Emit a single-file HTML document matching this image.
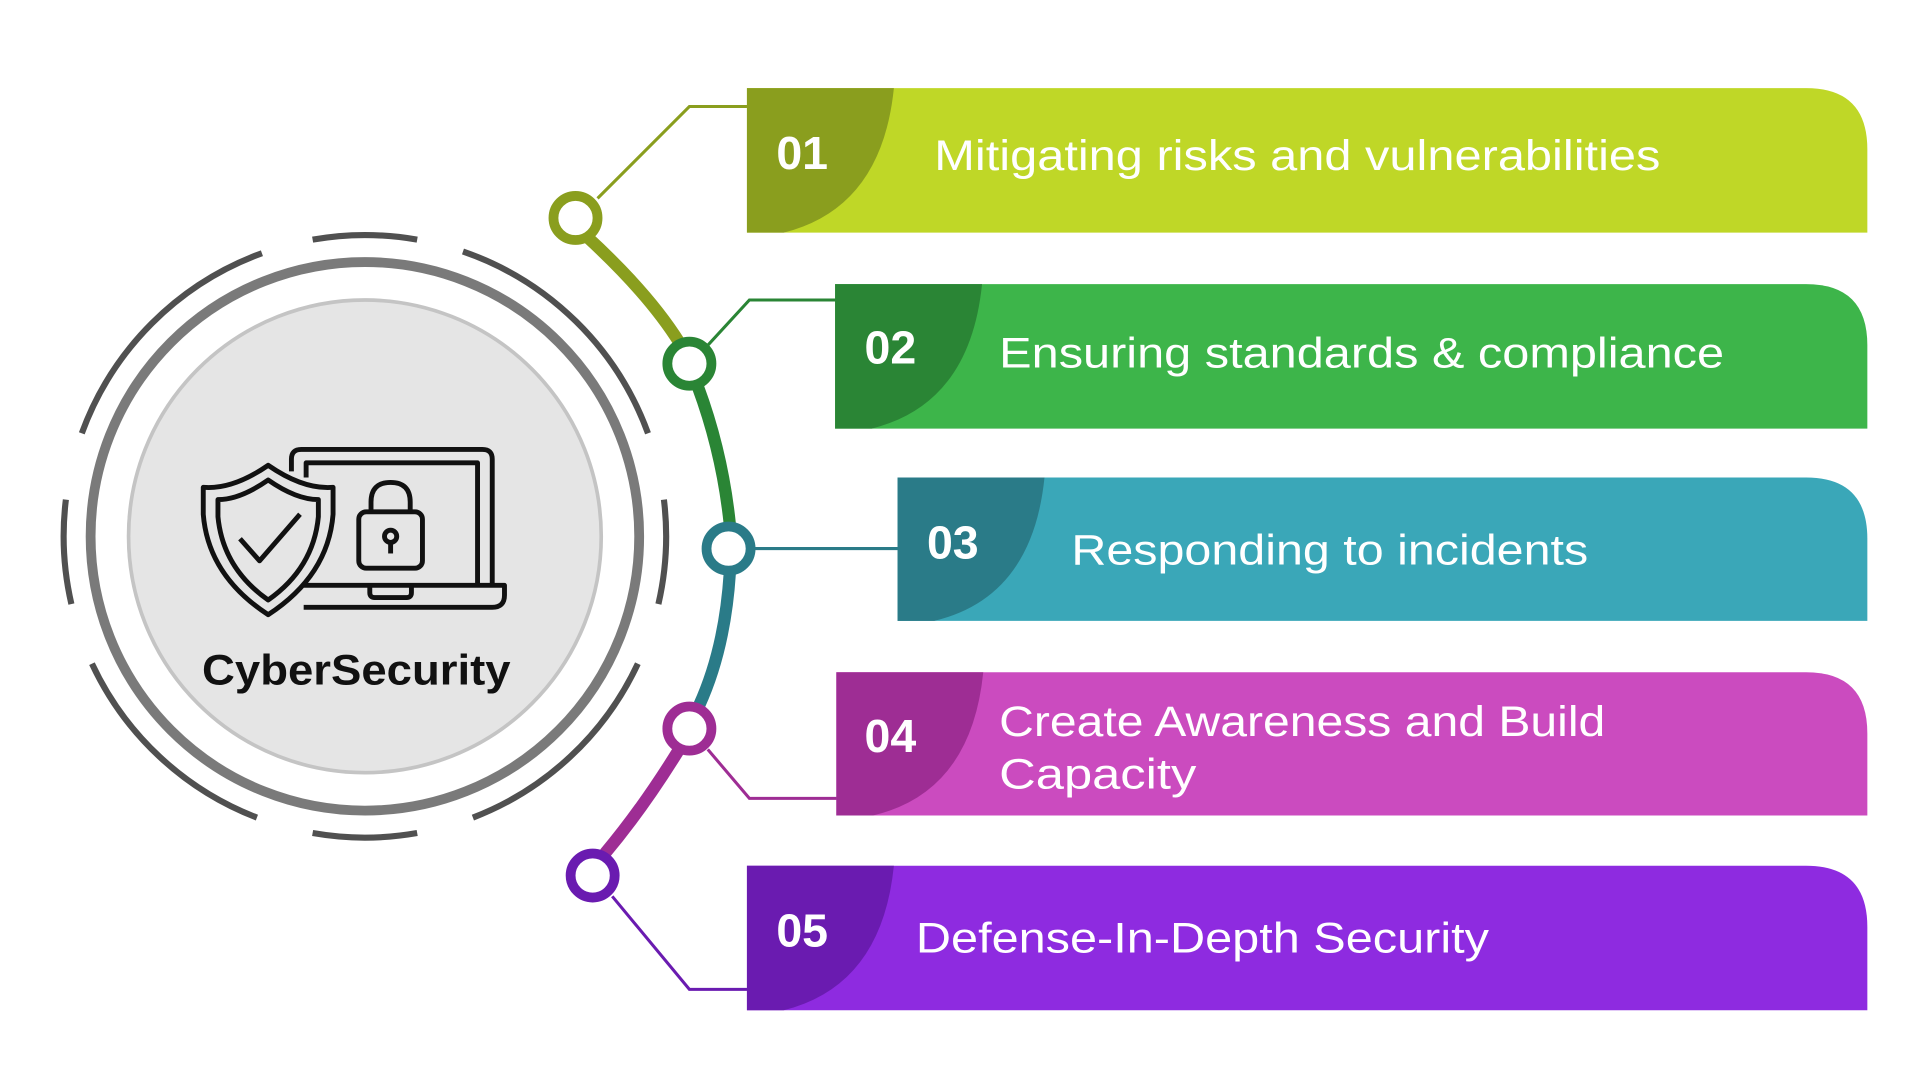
<!DOCTYPE html>
<html><head><meta charset="utf-8"><style>
html,body{margin:0;padding:0;background:#fff;width:1920px;height:1080px;overflow:hidden}
svg{display:block}
text{font-family:"Liberation Sans",sans-serif}
</style></head><body>
<svg width="1920" height="1080" viewBox="0 0 1568 882" xmlns="http://www.w3.org/2000/svg">
<!-- central circle -->
<g fill="none">
<circle cx="298" cy="438" r="193" fill="#e5e5e5" stroke="#c4c4c4" stroke-width="3"/>
<circle cx="298" cy="438" r="224" stroke="#7a7a7a" stroke-width="8"/>
<g stroke="#505050" stroke-width="5">
<path d="M255.3,195.7 A246,246 0 0 1 340.7,195.7"/>
<path d="M378.1,205.4 A246,246 0 0 1 529.2,353.9"/>
<path d="M542.2,408.0 A246,246 0 0 1 537.7,493.3"/>
<path d="M520.9,542.0 A246,246 0 0 1 386.2,667.7"/>
<path d="M340.7,680.3 A246,246 0 0 1 255.3,680.3"/>
<path d="M209.8,667.7 A246,246 0 0 1 75.1,542.0"/>
<path d="M58.3,493.3 A246,246 0 0 1 53.8,408.0"/>
<path d="M66.8,353.9 A246,246 0 0 1 213.9,206.8"/>
</g>
</g>
<!-- connector thin lines -->
<g fill="none" stroke-width="2.5">
<polyline points="488,162 563,87 612,87" stroke="#8a9e1e"/>
<polyline points="578,282 612,245 684,245" stroke="#2a8535"/>
<polyline points="615,448 735,448" stroke="#2a7b88"/>
<polyline points="578,612 612,652 685,652" stroke="#9e2d94"/>
<polyline points="500,732 563,808 612,808" stroke="#6a1bb0"/>
</g>
<!-- thick arc -->
<g fill="none" stroke-width="10">
<path d="M480,194 Q530,240 555,280" stroke="#8a9e1e"/>
<path d="M570,316 Q590,370 596,428" stroke="#2a8535"/>
<path d="M596,468 Q592,530 571,576" stroke="#2a7b88"/>
<path d="M554,613 Q525,660 494,697" stroke="#9e2d94"/>
</g>
<g fill="#fff" stroke-width="8">
<circle cx="470" cy="178" r="18" stroke="#8a9e1e"/>
<circle cx="563" cy="297" r="18" stroke="#2a8535"/>
<circle cx="595" cy="448" r="18" stroke="#2a7b88"/>
<circle cx="563" cy="595" r="18" stroke="#9e2d94"/>
<circle cx="484" cy="715" r="18" stroke="#6a1bb0"/>
</g>
<!-- bars -->
<g>
<path d="M610,72 H1475 Q1525,72 1525,122 V190 H610 Z" fill="#bfd727"/>
<path d="M610,72 H730 Q720,170 640,190 H610 Z" fill="#8a9e1e"/>
<path d="M682,232 H1475 Q1525,232 1525,282 V350 H682 Z" fill="#3db54a"/>
<path d="M682,232 H802 Q792,330 712,350 H682 Z" fill="#2a8535"/>
<path d="M733,390 H1475 Q1525,390 1525,440 V507 H733 Z" fill="#3aa7b8"/>
<path d="M733,390 H853 Q843,488 763,507 H733 Z" fill="#2a7b88"/>
<path d="M683,549 H1475 Q1525,549 1525,599 V666 H683 Z" fill="#cb4bbf"/>
<path d="M683,549 H803 Q793,647 713,666 H683 Z" fill="#9e2d94"/>
<path d="M610,707 H1475 Q1525,707 1525,757 V825 H610 Z" fill="#8e2be0"/>
<path d="M610,707 H730 Q720,805 640,825 H610 Z" fill="#6a1bb0"/>
</g>
<g fill="#fff" font-weight="bold" font-size="38">
<text x="634" y="138">01</text>
<text x="706" y="297">02</text>
<text x="757" y="456">03</text>
<text x="706" y="614">04</text>
<text x="634" y="773">05</text>
</g>
<g fill="#fff" font-size="35" lengthAdjust="spacingAndGlyphs">
<text x="763" y="139" textLength="593" lengthAdjust="spacingAndGlyphs">Mitigating risks and vulnerabilities</text>
<text x="816" y="300" textLength="592" lengthAdjust="spacingAndGlyphs">Ensuring standards &amp; compliance</text>
<text x="875" y="461" textLength="422" lengthAdjust="spacingAndGlyphs">Responding to incidents</text>
<text x="816" y="601" textLength="495" lengthAdjust="spacingAndGlyphs">Create Awareness and Build</text>
<text x="816" y="644" textLength="161" lengthAdjust="spacingAndGlyphs">Capacity</text>
<text x="748" y="778" textLength="468" lengthAdjust="spacingAndGlyphs">Defense-In-Depth Security</text>
</g>
<!-- icon -->
<g fill="none" stroke="#111" stroke-width="4" stroke-linejoin="round">
<path d="M238,385 V375 Q238,367 246,367 H394 Q402,367 402,375 V478"/>
<path d="M250,390 V378 H390 V478"/>
<path d="M248,478 H412 V486 Q412,496 402,496 H248"/>
<path d="M302,478 V484 Q302,488 306,488 H332 Q336,488 336,484 V478"/>
<path d="M219,380 Q190,400 166,398 V420 Q170,470 219,502 Q268,470 272,420 V398 Q248,400 219,380 Z"/>
<path d="M219,392 Q196,408 178,408 V422 Q182,464 219,490 Q256,464 260,422 V408 Q242,408 219,392 Z"/>
<path d="M196,440 L212,458 L245,420"/>
<rect x="293" y="418" width="52" height="46" rx="6"/>
<path d="M303,418 V410 Q303,394 319,394 Q335,394 335,410 V418"/>
<circle cx="319" cy="438" r="5"/>
<path d="M319,443 V452"/>
</g>
<text x="165" y="559" textLength="252" lengthAdjust="spacingAndGlyphs" font-size="35" font-weight="bold" fill="#111">CyberSecurity</text>
</svg>
</body></html>
